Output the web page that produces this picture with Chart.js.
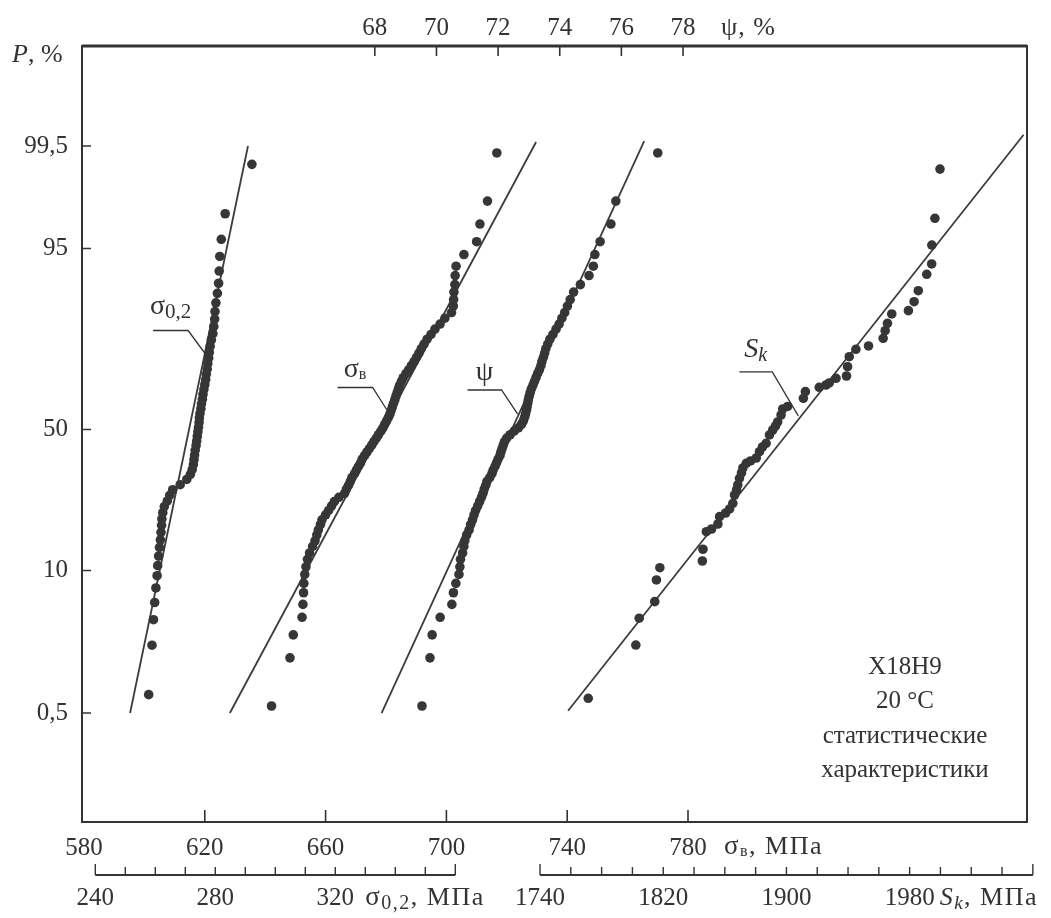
<!DOCTYPE html>
<html>
<head>
<meta charset="utf-8">
<title>Х18Н9 — статистические характеристики</title>
<script src="https://cdn.jsdelivr.net/npm/chart.js@4.4.1/dist/chart.umd.min.js"></script>
<style>
  html, body { margin: 0; padding: 0; background: #fff; }
  #wrap { width: 1051px; height: 918px; position: relative; }
</style>
</head>
<body>
<div id="wrap"><canvas id="probChart"></canvas></div>
<script>
// probability axis (P, %) and the four value axes
const pTicks = [0.5, 10, 50, 95, 99.5];
const psiTicks = [68, 70, 72, 74, 76, 78];
const sigmaBTicks = [580, 620, 660, 700, 740, 780];
const sigma02Ticks = [240, 250, 260, 270, 280, 290, 300, 310, 320, 330, 340, 350, 360];
const sigma02Labels = [240, 280, 320];
const skTicks = [1740, 1760, 1780, 1800, 1820, 1840, 1860, 1880, 1900, 1920, 1940, 1960, 1980, 2000, 2020, 2040, 2060];
const skLabels = [1740, 1820, 1900, 1980];

// sigma 0,2 (MPa) and its probability levels
const sigma02Values = [257.8, 258.9, 259.4, 259.8, 260.2, 260.6, 260.8, 261.1, 261.4, 261.7,
  261.9, 262.1, 262.2, 262.5, 263.0, 264.0, 264.8, 265.8, 268.3, 270.5,
  271.7, 272.3, 272.7, 272.9, 273.1, 273.3, 273.6, 273.8, 274.0, 274.2,
  274.4, 274.6, 274.7, 274.9, 275.2, 275.4, 275.7, 275.9, 276.2, 276.5,
  276.8, 277.0, 277.3, 277.5, 277.8, 278.0, 278.3, 278.7, 279.2, 279.5,
  279.8, 279.9, 280.2, 280.7, 281.1, 281.3, 281.5, 282.0, 283.3, 292.2];
const sigma02P = [0.8, 2.5, 4.2, 5.8, 7.5, 9.2, 10.8, 12.5, 14.2, 15.8,
  17.5, 19.2, 20.8, 22.5, 24.2, 25.8, 27.5, 29.2, 30.8, 32.5,
  34.2, 35.8, 37.5, 39.2, 40.8, 42.5, 44.2, 45.8, 47.5, 49.2,
  50.8, 52.5, 54.2, 55.8, 57.5, 59.2, 60.8, 62.5, 64.2, 65.8,
  67.5, 69.2, 70.8, 72.5, 74.2, 75.8, 77.5, 79.2, 80.8, 82.5,
  84.2, 85.8, 87.5, 89.2, 90.8, 92.5, 94.2, 95.8, 97.5, 99.2];

// sigma B (MPa)
const sigmaBValues = [642.1, 648.2, 649.3, 652.2, 652.5, 652.7, 652.8, 653.1, 653.5, 654.0,
  654.7, 655.7, 656.5, 657.1, 657.6, 658.3, 658.8, 660.0, 661.0, 662.0,
  662.9, 664.4, 666.3, 666.9, 667.6, 668.2, 668.7, 669.6, 670.2, 670.9,
  671.6, 672.1, 672.9, 673.7, 674.5, 675.3, 676.0, 676.8, 677.5, 678.3,
  679.0, 679.6, 680.2, 680.8, 681.3, 681.7, 682.1, 682.5, 682.9, 683.3,
  683.7, 684.1, 684.5, 685.1, 685.7, 686.6, 687.5, 688.4, 689.3, 690.1,
  690.9, 691.7, 692.6, 693.6, 694.9, 696.2, 697.9, 699.5, 701.7, 702.3,
  702.4, 702.5, 702.8, 702.9, 703.2, 705.8, 710.0, 711.1, 713.6, 716.7];
const sigmaBP = [0.6, 1.9, 3.1, 4.4, 5.6, 6.9, 8.1, 9.4, 10.6, 11.9,
  13.1, 14.4, 15.6, 16.9, 18.1, 19.4, 20.6, 21.9, 23.1, 24.4,
  25.6, 26.9, 28.1, 29.4, 30.6, 31.9, 33.1, 34.4, 35.6, 36.9,
  38.1, 39.4, 40.6, 41.9, 43.1, 44.4, 45.6, 46.9, 48.1, 49.4,
  50.6, 51.9, 53.1, 54.4, 55.6, 56.9, 58.1, 59.4, 60.6, 61.9,
  63.1, 64.4, 65.6, 66.9, 68.1, 69.4, 70.6, 71.9, 73.1, 74.4,
  75.6, 76.9, 78.1, 79.4, 80.6, 81.9, 83.1, 84.4, 85.6, 86.9,
  88.1, 89.4, 90.6, 91.9, 93.1, 94.4, 95.6, 96.9, 98.1, 99.4];

// psi (%)
const psiValues = [69.53, 69.79, 69.86, 70.12, 70.50, 70.55, 70.63, 70.73, 70.76, 70.78,
  70.85, 70.89, 70.92, 70.98, 71.06, 71.11, 71.17, 71.22, 71.27, 71.34,
  71.40, 71.46, 71.51, 71.55, 71.60, 71.64, 71.73, 71.80, 71.84, 71.90,
  71.95, 72.00, 72.06, 72.09, 72.13, 72.17, 72.21, 72.28, 72.39, 72.52,
  72.66, 72.76, 72.82, 72.86, 72.89, 72.92, 72.94, 72.96, 72.98, 73.01,
  73.04, 73.08, 73.13, 73.18, 73.23, 73.28, 73.34, 73.39, 73.42, 73.47,
  73.51, 73.55, 73.61, 73.68, 73.78, 73.88, 73.98, 74.07, 74.16, 74.25,
  74.34, 74.45, 74.67, 74.95, 75.09, 75.14, 75.31, 75.66, 75.82, 77.18];
const psiP = sigmaBP;

// S_k (MPa)
const skValues = [1771.3, 1802.2, 1804.4, 1814.5, 1815.6, 1817.8, 1845.4, 1845.8, 1848.0, 1851.4,
  1855.5, 1856.6, 1860.5, 1863.1, 1865.2, 1866.3, 1867.6, 1868.4, 1869.5, 1870.8,
  1871.7, 1873.9, 1876.7, 1880.4, 1882.5, 1884.4, 1886.8, 1889.0, 1891.1, 1892.9,
  1894.3, 1896.5, 1897.6, 1900.8, 1911.0, 1912.3, 1921.3, 1925.7, 1927.8, 1932.2,
  1939.0, 1939.7, 1940.8, 1945.1, 1953.3, 1962.8, 1964.1, 1965.6, 1968.4, 1979.2,
  1982.9, 1985.6, 1991.1, 1994.3, 1994.4, 1996.4, 1999.7];
const skP = [0.73, 2.51, 4.32, 5.89, 8.58, 10.46, 11.61, 13.83, 17.66, 18.30,
  19.53, 21.42, 22.40, 23.51, 25.13, 27.59, 29.13, 30.71, 32.87, 34.64,
  36.32, 37.94, 38.74, 39.78, 42.01, 43.68, 45.01, 48.01, 49.82, 51.27,
  52.72, 55.24, 57.39, 58.28, 61.16, 63.44, 64.93, 65.70, 66.37, 67.91,
  68.65, 71.58, 74.58, 76.69, 77.60, 79.63, 81.53, 83.27, 85.30, 85.98,
  87.72, 89.63, 92.07, 93.37, 95.31, 97.25, 99.10];

// fitted straight lines: [value at low P, value at high P]
const sigma02Line = [251.6, 290.9];
const sigma02LineP = [0.5, 99.5];
const sigmaBLine = [628.3, 729.7];
const sigmaBLineP = [0.5, 99.55];
const psiLine = [68.22, 76.74];
const psiLineP = [0.5, 99.56];
const skLine = [1758.2, 2054.0];
const skLineP = [0.53, 99.63];

const FONT = "'Liberation Serif', 'Times New Roman', serif";
const INK = '#333333';

// inverse of the normal distribution (Acklam), used for the probability scale
function probit(p) {
  const a = [-39.69683028665376, 220.9460984245205, -275.9285104469687, 138.3577518672690, -30.66479806614716, 2.506628277459239];
  const b = [-54.47609879822406, 161.5858368580409, -155.6989798598866, 66.80131188771972, -13.28068155288572];
  const c = [-0.007784894002430293, -0.3223964580411365, -2.400758277161838, -2.549732539343734, 4.374664141464968, 2.938163982698783];
  const d = [0.007784695709041462, 0.3224671290700398, 2.445134137142996, 3.754408661907416];
  const lo = 0.02425;
  let q, r;
  if (p < lo) {
    q = Math.sqrt(-2 * Math.log(p));
    return (((((c[0]*q+c[1])*q+c[2])*q+c[3])*q+c[4])*q+c[5]) / ((((d[0]*q+d[1])*q+d[2])*q+d[3])*q+1);
  }
  if (p > 1 - lo) {
    q = Math.sqrt(-2 * Math.log(1 - p));
    return -(((((c[0]*q+c[1])*q+c[2])*q+c[3])*q+c[4])*q+c[5]) / ((((d[0]*q+d[1])*q+d[2])*q+d[3])*q+1);
  }
  q = p - 0.5; r = q * q;
  return (((((a[0]*r+a[1])*r+a[2])*r+a[3])*r+a[4])*r+a[5])*q / (((((b[0]*r+b[1])*r+b[2])*r+b[3])*r+b[4])*r+1);
}

const toPoints = (vals, ps) => vals.map((v, i) => ({ x: v, y: probit(ps[i] / 100) }));

function pointSet(vals, ps, axis) {
  return {
    data: toPoints(vals, ps), xAxisID: axis, yAxisID: 'y',
    showLine: false, pointRadius: 4.8, pointBackgroundColor: '#363636', pointBorderWidth: 0
  };
}
function lineSet(vals, ps, axis) {
  return {
    data: toPoints(vals, ps), xAxisID: axis, yAxisID: 'y',
    showLine: true, pointRadius: 0, borderColor: '#3c3c3c', borderWidth: 1.8
  };
}

// text with sub-parts: [{t, size, dy, italic}]
function drawParts(ctx, parts, x, y, align, spacing) {
  const fontOf = p => (p.italic ? 'italic ' : '') + (p.size || 25) + 'px ' + FONT;
  ctx.letterSpacing = (spacing || 0) + 'px';
  let w = 0;
  parts.forEach(p => { ctx.font = fontOf(p); w += ctx.measureText(p.t).width; });
  let cx = align === 'center' ? x - w / 2 : (align === 'right' ? x - w : x);
  ctx.textAlign = 'left';
  ctx.textBaseline = 'middle';
  parts.forEach(p => {
    ctx.font = fontOf(p);
    ctx.fillText(p.t, cx, y + (p.dy || 0));
    cx += ctx.measureText(p.t).width;
  });
  ctx.letterSpacing = '0px';
}

// curve labels with a leader ending on the fitted line
const leaders = [
  { axis: 'x02', x: 276.6, p: 75.5, dx: -17, dy: -23, run: 35, up: 24, parts: [{ t: 'σ', size: 28 }, { t: '0,2', size: 21, dy: 6 }] },
  { axis: 'xB', x: 680.2, p: 57.2, dx: -14, dy: -22, run: 35, up: 18, parts: [{ t: 'σ', size: 28 }, { t: 'в', size: 16, dy: 5 }] },
  { axis: 'xPsi', x: 72.63, p: 55.6, dx: -16, dy: -24, run: 34, up: 17, parts: [{ t: 'ψ', size: 28 }] },
  { axis: 'xSk', x: 1907.7, p: 54.9, dx: -26, dy: -44, run: 33, up: 22, parts: [{ t: 'S', size: 28, italic: true }, { t: 'k', size: 20, dy: 6, italic: true }] }
];

const decorPlugin = {
  id: 'decor',
  afterDraw(chart) {
    const { ctx, chartArea: a, scales } = chart;
    const y = scales.y, xB = scales.xB, x02 = scales.x02, xPsi = scales.xPsi, xSk = scales.xSk;
    ctx.save();
    ctx.strokeStyle = INK;
    ctx.fillStyle = INK;

    // frame
    ctx.lineWidth = 2;
    ctx.strokeRect(a.left, a.top, a.right - a.left, a.bottom - a.top);
    ctx.lineWidth = 3;
    ctx.beginPath(); ctx.moveTo(a.left, a.top); ctx.lineTo(a.right, a.top); ctx.stroke();

    // inward tick marks
    ctx.lineWidth = 1.6;
    ctx.beginPath();
    pTicks.forEach(p => { const py = y.getPixelForValue(probit(p / 100)); ctx.moveTo(a.left, py); ctx.lineTo(a.left + 9, py); });
    psiTicks.forEach(v => { const px = xPsi.getPixelForValue(v); ctx.moveTo(px, a.top); ctx.lineTo(px, a.top + 10); });
    sigmaBTicks.slice(1).forEach(v => { const px = xB.getPixelForValue(v); ctx.moveTo(px, a.bottom); ctx.lineTo(px, a.bottom - 12); });
    ctx.stroke();

    // secondary axes under the frame
    const axY = a.bottom + 53, labY = a.bottom + 76;
    [[x02, sigma02Ticks, sigma02Labels], [xSk, skTicks, skLabels]].forEach(([sc, ticks, labels]) => {
      const first = sc.getPixelForValue(ticks[0]), last = sc.getPixelForValue(ticks[ticks.length - 1]);
      ctx.lineWidth = 1.8;
      ctx.beginPath(); ctx.moveTo(first, axY); ctx.lineTo(last, axY); ctx.stroke();
      ctx.lineWidth = 1.4;
      ctx.beginPath();
      ticks.forEach((v, i) => {
        const px = sc.getPixelForValue(v);
        const len = (i === 0 || i === ticks.length - 1) ? 11 : 8;
        ctx.moveTo(px, axY); ctx.lineTo(px, axY - len);
      });
      ctx.stroke();
      labels.forEach(v => drawParts(ctx, [{ t: String(v) }], sc.getPixelForValue(v), labY, 'center'));
    });

    // axis titles
    drawParts(ctx, [{ t: 'ψ, %', size: 26 }], xPsi.getPixelForValue(78) + 38, a.top - 18, 'left', 1);
    drawParts(ctx, [{ t: 'σ', size: 27 }, { t: 'в', size: 16, dy: 5 }, { t: ', МПа', size: 26 }], xB.getPixelForValue(780) + 36, a.bottom + 25, 'left', 1.5);
    drawParts(ctx, [{ t: 'σ', size: 27 }, { t: '0,2', size: 20, dy: 6 }, { t: ', МПа', size: 26 }], x02.getPixelForValue(320) + 30, labY, 'left', 1.5);
    drawParts(ctx, [{ t: 'S', size: 26, italic: true }, { t: 'k', size: 19, dy: 6, italic: true }, { t: ', МПа', size: 26 }], xSk.getPixelForValue(1980) + 30, labY, 'left', 1.5);
    drawParts(ctx, [{ t: 'P', italic: true, size: 26 }, { t: ', %', size: 26 }], a.left - 70, a.top + 9, 'left');

    // curve labels
    ctx.lineWidth = 1.3;
    leaders.forEach(l => {
      const ex = scales[l.axis].getPixelForValue(l.x), ey = y.getPixelForValue(probit(l.p / 100));
      const kx = ex + l.dx, ky = ey + l.dy;
      ctx.beginPath(); ctx.moveTo(ex, ey); ctx.lineTo(kx, ky); ctx.lineTo(kx - l.run, ky); ctx.stroke();
      drawParts(ctx, l.parts, kx - l.run / 2, ky - l.up, 'center');
    });

    // material note
    const nx = a.right - 122;
    ['Х18Н9', '20 °C', 'статистические', 'характеристики'].forEach((s, i) => {
      drawParts(ctx, [{ t: s }], nx, a.bottom - 155 + i * 34.5, 'center');
    });
    ctx.restore();
  }
};

const tickFont = { family: FONT, size: 25 };
const fixedTicks = list => scale => { scale.ticks = list.map(v => ({ value: v })); };

new Chart(document.getElementById('probChart'), {
  type: 'scatter',
  data: {
    datasets: [
      pointSet(sigma02Values, sigma02P, 'x02'),
      pointSet(sigmaBValues, sigmaBP, 'xB'),
      pointSet(psiValues, psiP, 'xPsi'),
      pointSet(skValues, skP, 'xSk'),
      lineSet(sigma02Line, sigma02LineP, 'x02'),
      lineSet(sigmaBLine, sigmaBLineP, 'xB'),
      lineSet(psiLine, psiLineP, 'xPsi'),
      lineSet(skLine, skLineP, 'xSk')
    ]
  },
  options: {
    responsive: true,
    maintainAspectRatio: false,
    animation: false,
    events: [],
    layout: { autoPadding: false, padding: { left: 0, right: 24, top: 0, bottom: 0 } },
    plugins: { legend: { display: false }, tooltip: { enabled: false } },
    scales: {
      y: {
        type: 'linear', position: 'left', min: -3.566, max: 3.484,
        grid: { display: false, drawTicks: false }, border: { display: false },
        afterBuildTicks: fixedTicks(pTicks.map(p => probit(p / 100))),
        afterFit: s => { s.width = 82; },
        ticks: {
          font: tickFont, color: INK, padding: 14, autoSkip: false,
          callback: (v, i) => String(pTicks[i]).replace('.', ',')
        }
      },
      xB: {
        type: 'linear', position: 'bottom', min: 579.34, max: 892.25,
        grid: { display: false, drawTicks: false }, border: { display: false },
        afterBuildTicks: fixedTicks(sigmaBTicks),
        afterFit: s => { s.height = 96; },
        ticks: { font: tickFont, color: INK, padding: 11, autoSkip: false, maxRotation: 0, callback: v => String(v) }
      },
      xPsi: {
        type: 'linear', position: 'top', min: 58.50, max: 89.16,
        grid: { display: false, drawTicks: false }, border: { display: false },
        afterBuildTicks: fixedTicks(psiTicks),
        afterFit: s => { s.height = 46; },
        ticks: { font: tickFont, color: INK, padding: 3, autoSkip: false, maxRotation: 0, callback: v => String(v) }
      },
      x02: { type: 'linear', display: false, min: 235.57, max: 550.57 },
      xSk: { type: 'linear', display: false, min: 1442.6, max: 2056.2 }
    }
  },
  plugins: [decorPlugin]
});
</script>
</body>
</html>
